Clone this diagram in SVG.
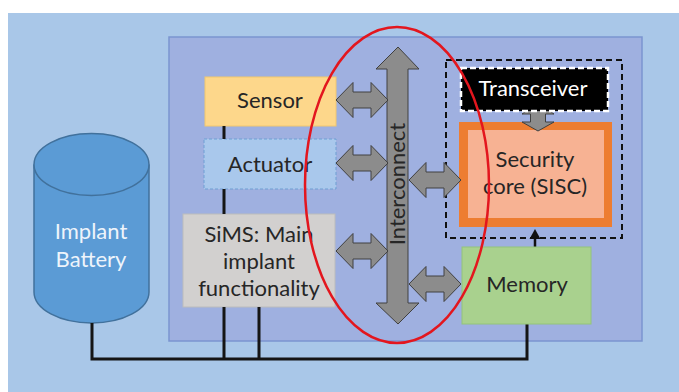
<svg xmlns="http://www.w3.org/2000/svg" width="679" height="392" viewBox="0 0 679 392">
<style>
.t{font-family:Lato,"Liberation Sans",sans-serif;font-size:22px;fill:#262626;text-anchor:middle}
.arr{fill:#8c8c8c;stroke:#404040;stroke-width:1}
.wire{stroke:#151515;stroke-width:3;fill:none}
</style>
<rect x="0" y="0" width="679" height="392" fill="#ffffff"/>
<rect x="8" y="13" width="671" height="379" fill="#a9c7e8"/>
<g id="board">
<rect x="169" y="37" width="473" height="304" fill="#9fb0e0" stroke="#7b95d0" stroke-width="1.5"/>
</g>
<g id="battery">
<path d="M34,164.5 V292 A57.5,31 0 0 0 149,292 V164.5" fill="#5b9bd5" stroke="#41719c" stroke-width="1.5"/>
<ellipse cx="91.5" cy="164.5" rx="57.5" ry="31" fill="#5b9bd5" stroke="#41719c" stroke-width="1.5"/>
<text class="t" x="91" y="239" style="fill:#eef4fb">Implant</text>
<text class="t" x="91" y="267" style="fill:#eef4fb">Battery</text>
</g>
<g id="sensor">
<rect x="205" y="77" width="131" height="49" fill="#fdd78b" stroke="#f2c76e" stroke-width="1"/>
<text class="t" x="270" y="108">Sensor</text>
</g>
<g id="actuator">
<rect x="204" y="139" width="132" height="50" fill="#a9c8ec" stroke="#6f9fd3" stroke-width="1" stroke-dasharray="3,2"/>
<text class="t" x="270" y="172">Actuator</text>
</g>
<g id="sims">
<rect x="183" y="214" width="152" height="93" fill="#d2d0cf" stroke="#bcbcbc" stroke-width="1"/>
<text class="t" x="259" y="242">SiMS: Main</text>
<text class="t" x="259" y="269">implant</text>
<text class="t" x="259" y="296">functionality</text>
</g>
<g id="interconnect">
<path class="arr" d="M398,47 L419,69 H408 V303 H419 L398,324 L376,303 H387 V69 H376 Z"/>
<text class="t" transform="translate(405,184) rotate(-90)">Interconnect</text>
</g>
<g id="secure-zone">
<rect x="446" y="60" width="176" height="178" fill="none" stroke="#111" stroke-width="2" stroke-dasharray="6,4"/>
</g>
<g id="security-core">
<rect x="459" y="122" width="153" height="105" fill="#ed7d31"/>
<rect x="468" y="130" width="136" height="88" fill="#f7b293"/>
<text class="t" x="535" y="167">Security</text>
<text class="t" x="535" y="194">core (SISC)</text>
</g>
<g id="connectors">
<path class="wire" d="M92,323 V359 H527 V324"/>
<path class="wire" d="M224,126 V139 M224,189 V214 M224,307 V359 M259,307 V359"/>
<path d="M535,247 V238" stroke="#111" stroke-width="2.5"/>
<polygon points="535,229 529.5,239 540.5,239" fill="#111"/>
<path class="arr" d="M336,100 l17,-17.5 v9.5 h18 v-9.5 l17,17.5 l-17,17.5 v-9.5 h-18 v9.5 z"/>
<path class="arr" d="M336,163 l17,-17.5 v9.5 h18 v-9.5 l17,17.5 l-17,17.5 v-9.5 h-18 v9.5 z"/>
<path class="arr" d="M336,251 l17,-17.5 v9.5 h18 v-9.5 l17,17.5 l-17,17.5 v-9.5 h-18 v9.5 z"/>
<path class="arr" d="M409,180 l17,-17.5 v9.5 h18 v-9.5 l17,17.5 l-17,17.5 v-9.5 h-18 v9.5 z"/>
<path class="arr" d="M409,284 l17,-17.5 v9.5 h18 v-9.5 l17,17.5 l-17,17.5 v-9.5 h-18 v9.5 z"/>
<path class="arr" d="M538,103 l16,11 h-8.5 v8 h8.5 l-16,9 l-16,-9 h8.5 v-8 h-8.5 z"/>
</g>
<g id="transceiver">
<rect x="461" y="68" width="147" height="43" fill="#000" stroke="#fff" stroke-width="2.5" stroke-dasharray="6,3"/>
<text class="t" x="533" y="96" style="fill:#fff">Transceiver</text>
</g>
<g id="memory">
<rect x="462" y="247" width="129" height="77" fill="#a9d18e" stroke="#93c47a" stroke-width="1"/>
<text class="t" x="527" y="292">Memory</text>
</g>
<g id="highlight">
<ellipse cx="397" cy="185" rx="92" ry="158" fill="none" stroke="#e3161e" stroke-width="2.5"/>
</g>
</svg>
